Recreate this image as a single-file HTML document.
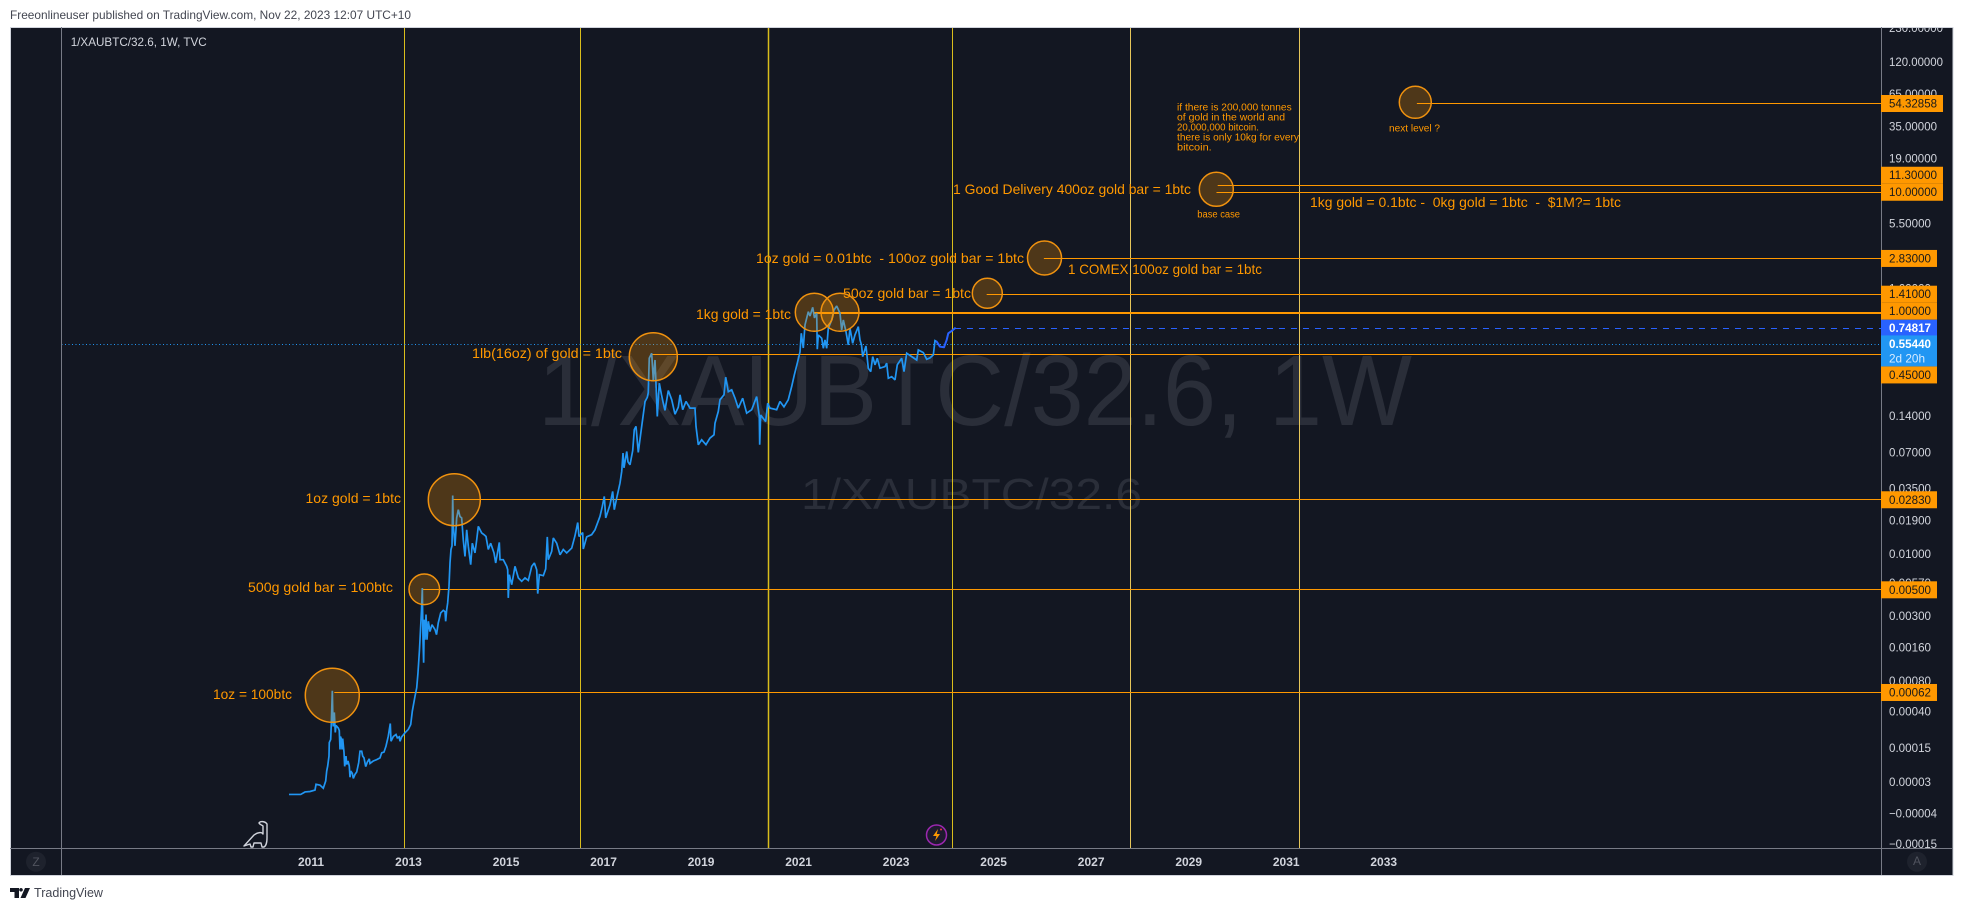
<!DOCTYPE html>
<html lang="en">
<head>
<meta charset="utf-8">
<title>1/XAUBTC/32.6 weekly chart</title>
<style>
html,body{margin:0;padding:0;background:#ffffff;width:1963px;height:911px;overflow:hidden}
svg{display:block;font-family:"Liberation Sans",Arial,sans-serif}
.note{fill:#ff9800;font-size:14px;dominant-baseline:central}
.small{fill:#ff9800;font-size:10px;dominant-baseline:central}
.circle{fill:rgba(255,152,0,.25);stroke:#f0920f;stroke-width:1.5}
</style>
</head>
<body>
<svg id="chart" xmlns="http://www.w3.org/2000/svg" width="1963" height="911" viewBox="0 0 1963 911">
  <defs>
    <clipPath id="axis-clip"><rect x="1882" y="28" width="71" height="820"/></clipPath>
  </defs>
  <text x="10" y="15" font-size="12" fill="#434651" dominant-baseline="central" textLength="401" lengthAdjust="spacingAndGlyphs">Freeonlineuser published on TradingView.com, Nov 22, 2023 12:07 UTC+10</text>

  <rect x="10.5" y="27.5" width="1942.5" height="848" fill="#131722" stroke="#d1d4dc" stroke-width="1"/>

  <text x="538" y="425" font-size="100" fill="#2a2e39" textLength="874" lengthAdjust="spacingAndGlyphs">1/XAUBTC/32.6, 1W</text>
  <text x="801" y="509" font-size="44" fill="#2a2e39" textLength="341" lengthAdjust="spacingAndGlyphs">1/XAUBTC/32.6</text>

  <g id="verticals"></g>
  <g id="reference"></g>
  <g id="levels"></g>
  <g id="series"></g>

  <g>
    <circle class="circle" cx="332.3" cy="695.3" r="27"/>
    <circle class="circle" cx="424.3" cy="589.3" r="15.3"/>
    <circle class="circle" cx="454.3" cy="499.7" r="26"/>
    <circle class="circle" cx="653.3" cy="356.7" r="24"/>
    <circle class="circle" cx="814.3" cy="312.3" r="19"/>
    <circle class="circle" cx="840" cy="312.3" r="19"/>
    <circle class="circle" cx="987.3" cy="293.3" r="15"/>
    <circle class="circle" cx="1044.5" cy="258" r="17"/>
    <circle class="circle" cx="1216.3" cy="189.3" r="17"/>
    <circle class="circle" cx="1415.3" cy="102.3" r="16"/>
  </g>

  <g>
    <text class="note" x="213" y="694" textLength="79" lengthAdjust="spacingAndGlyphs">1oz = 100btc</text>
    <text class="note" x="248" y="587" textLength="145" lengthAdjust="spacingAndGlyphs">500g gold bar = 100btc</text>
    <text class="note" x="305.5" y="498" textLength="95.5" lengthAdjust="spacingAndGlyphs">1oz gold = 1btc</text>
    <text class="note" x="472" y="353" textLength="150" lengthAdjust="spacingAndGlyphs">1lb(16oz) of gold = 1btc</text>
    <text class="note" x="696" y="314" textLength="95" lengthAdjust="spacingAndGlyphs">1kg gold = 1btc</text>
    <text class="note" x="843" y="293" textLength="128" lengthAdjust="spacingAndGlyphs">50oz gold bar = 1btc</text>
    <text class="note" x="756" y="258" textLength="268" lengthAdjust="spacingAndGlyphs" xml:space="preserve">1oz gold = 0.01btc  - 100oz gold bar = 1btc</text>
    <text class="note" x="1068" y="269" textLength="194" lengthAdjust="spacingAndGlyphs">1 COMEX 100oz gold bar = 1btc</text>
    <text class="note" x="953" y="189" textLength="238" lengthAdjust="spacingAndGlyphs">1 Good Delivery 400oz gold bar = 1btc</text>
    <text class="note" x="1310" y="202" textLength="311" lengthAdjust="spacingAndGlyphs" xml:space="preserve">1kg gold = 0.1btc -  0kg gold = 1btc  -  $1M?= 1btc</text>
    <text class="small" x="1177" y="108" textLength="114.7" lengthAdjust="spacingAndGlyphs">if there is 200,000 tonnes</text>
    <text class="small" x="1177" y="118" textLength="108" lengthAdjust="spacingAndGlyphs">of gold in the world and</text>
    <text class="small" x="1177" y="128" textLength="82" lengthAdjust="spacingAndGlyphs">20,000,000 bitcoin.</text>
    <text class="small" x="1177" y="138" textLength="122" lengthAdjust="spacingAndGlyphs">there is only 10kg for every</text>
    <text class="small" x="1177" y="148" textLength="34.7" lengthAdjust="spacingAndGlyphs">bitcoin.</text>
    <text class="small" x="1197.3" y="215" textLength="42.7" lengthAdjust="spacingAndGlyphs">base case</text>
    <text class="small" x="1389" y="129" textLength="51" lengthAdjust="spacingAndGlyphs">next level ?</text>
  </g>

  <text x="70.7" y="42" font-size="12" fill="#d1d4dc" dominant-baseline="central" textLength="136" lengthAdjust="spacingAndGlyphs">1/XAUBTC/32.6, 1W, TVC</text>

  <g fill="none" stroke="#d1d4dc" stroke-width="1.4" stroke-linejoin="round" stroke-linecap="round">
    <path d="M244 846 L254 835 C258 832 262 832 263 834 L263 826 C262 825 260 825 259 823 C260 821 265 821 267 824 L267 838 C267 842 266 846 264 847 L262 847 L261 843 L254 843 L253 847 L251 847 L250 844 Z"/>
  </g>

  <g>
    <circle cx="936.5" cy="835" r="10" fill="#1e1a2e" stroke="#9c27b0" stroke-width="1.5"/>
    <path d="M938 829 L933 836 L936.5 836 L935 841 L940 834 L936.8 834 Z" fill="#ff9800"/>
    <circle cx="941" cy="829.5" r="1" fill="#f23645"/>
  </g>

  <line x1="61.5" y1="27" x2="61.5" y2="875" stroke="#787b86"/>
  <line x1="1881.5" y1="27" x2="1881.5" y2="875" stroke="#787b86"/>
  <line x1="10" y1="848.5" x2="1953" y2="848.5" stroke="#787b86"/>

  <g id="price-ticks" clip-path="url(#axis-clip)"></g>
  <g id="price-tags"></g>
  <g id="time-ticks"></g>

  <g>
    <circle cx="36" cy="861.7" r="10" fill="#1e222d"/>
    <text x="36" y="862" text-anchor="middle" dominant-baseline="central" font-size="12" fill="#50535e">Z</text>
  </g>
  <g>
    <circle cx="1917" cy="861.7" r="10" fill="#1e222d"/>
    <text x="1917" y="861" text-anchor="middle" dominant-baseline="central" font-size="12" fill="#50535e">A</text>
  </g>

  <g>
    <path d="M10 888 H19 V898 H14.5 V892 H10 Z M21 888 a1.8 1.8 0 1 0 .01 0 Z M25 888 H30 L25.5 898 H20.5 Z" fill="#131722"/>
    <text x="34" y="893" font-size="12.5" fill="#434651" dominant-baseline="central" textLength="69" lengthAdjust="spacingAndGlyphs">TradingView</text>
  </g>
</svg>

<script>
// ---- chart data ----
const yearTicks = [2011, 2013, 2015, 2017, 2019, 2021, 2023, 2025, 2027, 2029, 2031, 2033];
const priceTicks = [230, 120, 65, 35, 19, 5.5, 1.6, 0.14, 0.07, 0.035, 0.019, 0.01, 0.0057, 0.003, 0.0016, 0.0008, 0.0004, 0.00015, 0.00003, -0.00004, -0.00015];
const verticalYears = [2012.92, 2016.53, 2020.38, 2024.16, 2027.81, 2031.27];
const levelPrices = [54.32858, 11.3, 10, 2.83, 1.41, 1, 0.45, 0.0283, 0.005, 0.00062];
const levelStartYears = [2033.68, 2029.595, 2029.57, 2026.03, 2024.857, 2021.295, 2017.987, 2013.918, 2013.291, 2011.478];
const lastPrice = 0.74817;
const lastYear = 2024.207;
const seriesClosePrice = 0.5544;
const countdownLabel = "2d 20h";

const historyYears = [
2010.549,2010.672,2010.789,2010.877,2010.98,2011.082,2011.103,2011.185,2011.252,2011.301,2011.322,2011.342,2011.369,2011.375,2011.404,2011.416,2011.437,2011.445,2011.457,2011.478,2011.498,2011.513,2011.56,2011.58,2011.595,2011.605,2011.626,2011.636,2011.65,2011.677,2011.691,2011.718,2011.732,2011.759,2011.785,2011.8,2011.814,2011.847,2011.868,2011.902,2011.937,2011.978,2012.005,2012.04,2012.06,2012.087,2012.122,2012.155,2012.196,2012.21,2012.278,2012.347,2012.415,2012.45,2012.497,2012.538,2012.585,2012.626,2012.641,2012.688,2012.743,2012.77,2012.811,2012.825,2012.86,2012.928,2012.995,2013.045,2013.078,2013.133,2013.168,2013.194,2013.225,2013.246,2013.267,2013.283,2013.297,2013.31,2013.324,2013.338,2013.359,2013.379,2013.406,2013.44,2013.481,2013.543,2013.574,2013.61,2013.66,2013.713,2013.748,2013.762,2013.783,2013.803,2013.83,2013.851,2013.871,2013.892,2013.906,2013.918,2013.953,2013.988,2014.021,2014.056,2014.09,2014.123,2014.158,2014.193,2014.226,2014.275,2014.308,2014.363,2014.398,2014.431,2014.5,2014.548,2014.589,2014.636,2014.685,2014.753,2014.788,2014.862,2014.876,2014.944,2015.014,2015.034,2015.046,2015.067,2015.116,2015.184,2015.252,2015.321,2015.389,2015.457,2015.527,2015.58,2015.629,2015.65,2015.683,2015.765,2015.813,2015.846,2015.867,2015.936,2015.969,2016.039,2016.107,2016.174,2016.244,2016.347,2016.414,2016.47,2016.496,2016.572,2016.584,2016.654,2016.756,2016.824,2016.927,2016.974,2017.015,2017.044,2017.132,2017.187,2017.22,2017.269,2017.337,2017.372,2017.399,2017.419,2017.475,2017.501,2017.542,2017.598,2017.63,2017.665,2017.712,2017.782,2017.85,2017.897,2017.917,2017.937,2017.987,2018.02,2018.055,2018.076,2018.102,2018.143,2018.188,2018.225,2018.26,2018.328,2018.398,2018.465,2018.533,2018.568,2018.623,2018.691,2018.773,2018.875,2018.896,2018.943,2019.012,2019.1,2019.182,2019.265,2019.285,2019.353,2019.388,2019.47,2019.505,2019.558,2019.628,2019.696,2019.763,2019.853,2019.935,2020.038,2020.14,2020.194,2020.202,2020.222,2020.325,2020.366,2020.413,2020.55,2020.618,2020.7,2020.788,2020.858,2020.912,2020.973,2021.029,2021.055,2021.096,2021.131,2021.199,2021.234,2021.289,2021.326,2021.371,2021.383,2021.404,2021.474,2021.507,2021.541,2021.576,2021.609,2021.679,2021.726,2021.781,2021.849,2021.883,2021.917,2021.972,2022.019,2022.054,2022.109,2022.156,2022.224,2022.259,2022.29,2022.314,2022.382,2022.429,2022.479,2022.52,2022.567,2022.614,2022.669,2022.772,2022.807,2022.84,2022.91,2022.977,2023.024,2023.114,2023.162,2023.217,2023.32,2023.422,2023.455,2023.558,2023.627,2023.695,2023.763,2023.797,2023.832
];
const historyPrices = [
0.000003,0.000003,0.000003,0.000008,0.000009,0.000012,0.000025,0.000023,0.000016,0.000033,0.000061,0.000077,0.000114,0.000177,0.000194,0.000291,0.000643,0.00042,0.000277,0.000392,0.000236,0.000284,0.000265,0.000249,0.000143,0.000211,0.000194,0.000143,0.000199,0.00013,0.000076,0.000114,0.000082,0.000095,0.000077,0.000043,0.000061,0.000054,0.00004,0.000051,0.000058,0.000089,0.000135,0.000135,0.000114,0.000107,0.000075,0.000091,0.000103,0.000086,0.000095,0.0001,0.000107,0.000128,0.000131,0.000159,0.000213,0.000298,0.000184,0.000211,0.000223,0.000203,0.000209,0.000184,0.000209,0.000234,0.000256,0.000291,0.000404,0.00057,0.000687,0.000947,0.00153,0.00229,0.00339,0.00518,0.00187,0.00117,0.00279,0.00187,0.00308,0.00187,0.0027,0.0022,0.00252,0.00229,0.00207,0.00261,0.00318,0.00335,0.00327,0.0027,0.00339,0.00387,0.00535,0.00841,0.0109,0.0117,0.0307,0.0172,0.0117,0.02,0.0234,0.0205,0.02,0.0131,0.00954,0.0159,0.0116,0.00814,0.0123,0.0102,0.0131,0.017,0.015,0.0145,0.014,0.0109,0.0123,0.0102,0.00841,0.0125,0.00896,0.00896,0.00788,0.00738,0.00427,0.0067,0.00552,0.00788,0.0063,0.0059,0.0063,0.006,0.00788,0.00841,0.00738,0.00464,0.0067,0.00658,0.00749,0.0139,0.00896,0.0105,0.0136,0.0123,0.00985,0.0109,0.0102,0.0112,0.0142,0.0183,0.014,0.0151,0.011,0.0139,0.0145,0.0159,0.0206,0.0249,0.0302,0.02,0.0257,0.0332,0.0234,0.0292,0.0389,0.0485,0.0691,0.0521,0.0712,0.0585,0.0552,0.0725,0.108,0.115,0.07,0.115,0.1845,0.2,0.219,0.422,0.464,0.279,0.408,0.254,0.139,0.262,0.21,0.179,0.156,0.228,0.191,0.145,0.166,0.21,0.158,0.185,0.163,0.163,0.115,0.081,0.089,0.081,0.092,0.098,0.122,0.153,0.191,0.21,0.294,0.223,0.231,0.197,0.163,0.197,0.148,0.158,0.203,0.139,0.081,0.143,0.126,0.179,0.163,0.158,0.185,0.167,0.191,0.246,0.307,0.384,0.476,0.679,0.513,0.796,1.025,0.944,1.114,0.91,0.995,0.501,0.658,0.618,0.51,0.598,0.51,0.747,0.875,1.059,1.142,0.995,0.723,0.875,0.7,0.544,0.747,0.561,0.658,0.771,0.598,0.544,0.435,0.533,0.349,0.327,0.435,0.372,0.422,0.349,0.36,0.384,0.288,0.297,0.279,0.372,0.422,0.327,0.464,0.435,0.408,0.494,0.47,0.414,0.425,0.45,0.59,0.579
];
const projectionYears = [2023.832, 2023.9, 2023.982, 2024.037, 2024.07, 2024.14, 2024.207];
const projectionPrices = [0.579, 0.526, 0.52, 0.598, 0.679, 0.71, 0.74817];

// ---- axis functions ----
const PX_PER_YEAR = 48.76;
const X_2011 = 311;
const Y_ZERO = 796;
const PX_PER_DECADE = 120.75;
const PLOT_LEFT = 61.5;
const PLOT_RIGHT = 1881;
function xOf(year) { return X_2011 + (year - 2011) * PX_PER_YEAR; }
function logTransform(price) {
  const m = Math.abs(price);
  if (m < 1e-15) return 0;
  const res = Math.log10(m + 0.0001) + 4;
  return price < 0 ? -res : res;
}
function yOf(price) { return Y_ZERO - PX_PER_DECADE * logTransform(price); }
function snap(px) { return Math.floor(px) + 0.5; }
function fmt(price) { return price.toFixed(5).replace('-', '\u2212'); }

const NS = 'http://www.w3.org/2000/svg';
function make(tag, parent) {
  const node = document.createElementNS(NS, tag);
  parent.appendChild(node);
  return node;
}
function style(node, props) {
  for (const k in props) node.setAttribute(k, props[k]);
  return node;
}
const byId = function (id) { return document.getElementById(id); };

// vertical lines
verticalYears.forEach(function (year, i) {
  const el = make('line', byId('verticals'));
  
  
  const px = snap(xOf(year));
  style(el, { x1: px, x2: px, y1: 28, y2: 848,
    stroke: i < 4 ? '#d9bd1c' : '#e6c65a', 'stroke-width': i === 2 ? 1.5 : 1 });
});

// current price reference lines
const dotted = make('line', byId('reference'));


const dottedY = Math.round(yOf(seriesClosePrice)) + 0.5;
style(dotted, { x1: PLOT_LEFT, x2: PLOT_RIGHT, y1: dottedY, y2: dottedY,
  stroke: '#2196f3', 'stroke-width': 1, 'stroke-dasharray': '1 2.5' });

const dashed = make('line', byId('reference'));


const dashedY = snap(yOf(lastPrice));
style(dashed, { x1: xOf(lastYear), x2: PLOT_RIGHT, y1: dashedY, y2: dashedY,
  stroke: '#2962ff', 'stroke-width': 1, 'stroke-dasharray': '6 6' });

// horizontal levels
levelPrices.forEach(function (price, i) {
  const el = make('line', byId('levels'));
  
  
  const thick = price === 1;
  const py = thick ? Math.round(yOf(price)) : snap(yOf(price));
  style(el, { x1: xOf(levelStartYears[i]), x2: PLOT_RIGHT, y1: py, y2: py,
    stroke: '#ff9800', 'stroke-width': thick ? 2 : 1 });
});

// price series
function pointsOf(years, prices) {
  return years.map(function (y, i) { return xOf(y).toFixed(2) + ',' + yOf(prices[i]).toFixed(2); }).join(' ');
}
const historyLine = make('polyline', byId('series'));


style(historyLine, { points: pointsOf(historyYears, historyPrices), fill: 'none',
  stroke: '#2196f3', 'stroke-width': 1.7, 'stroke-linejoin': 'miter', 'stroke-miterlimit': 2 });

const projectionLine = make('polyline', byId('series'));


style(projectionLine, { points: pointsOf(projectionYears, projectionPrices), fill: 'none',
  stroke: '#2962ff', 'stroke-width': 2, 'stroke-linejoin': 'round', 'stroke-linecap': 'round' });

// price-axis tick labels
priceTicks.forEach(function (price) {
  const el = make('text', byId('price-ticks'));
  
  
  const label = fmt(price);
  el.textContent = label;
  style(el, { x: 1889, y: yOf(price), fill: '#d1d4dc', 'font-size': 12, 'dominant-baseline': 'central',
    textLength: label.length * 6, lengthAdjust: 'spacingAndGlyphs' });
});

// time-axis tick labels
yearTicks.forEach(function (year) {
  const el = make('text', byId('time-ticks'));
  
  
  el.textContent = String(year);
  style(el, { x: xOf(year), y: 862, fill: '#d1d4dc', 'font-size': 12, 'font-weight': 'bold',
    'text-anchor': 'middle', 'dominant-baseline': 'central' });
});

// price tags: stack above / below the fixed current-price block
const TAG_H = 17;
const blockTop = yOf(lastPrice) - TAG_H / 2;
const blockBottom = yOf(seriesClosePrice) - TAG_H / 2 + 31;
let upperLimit = blockTop;
const tagCenters = levelPrices.map(function () { return 0; });
for (let i = levelPrices.length - 1; i >= 0; i--) {
  if (levelPrices[i] > lastPrice) {
    const c = Math.min(yOf(levelPrices[i]), upperLimit - TAG_H / 2);
    tagCenters[i] = c;
    upperLimit = c - TAG_H / 2;
  }
}
let lowerLimit = blockBottom;
for (let i = 0; i < levelPrices.length; i++) {
  if (levelPrices[i] < seriesClosePrice) {
    const c = Math.max(yOf(levelPrices[i]), lowerLimit + TAG_H / 2);
    tagCenters[i] = c;
    lowerLimit = c + TAG_H / 2;
  }
}
levelPrices.forEach(function (price, i) {
  const label = fmt(price);
  const w = label.length * 6 + 14;
  const tag = make('g', byId('price-tags'));
  
  
  const box = make('rect', tag);
  
  
  style(box, { x: 1881, y: tagCenters[i] - TAG_H / 2, width: w, height: TAG_H, fill: '#ff9800' });
  const txt = make('text', tag);
  
  
  txt.textContent = label;
  style(txt, { x: 1889, y: tagCenters[i], fill: '#1a1a1a', 'font-size': 12, 'dominant-baseline': 'central',
    textLength: label.length * 6, lengthAdjust: 'spacingAndGlyphs' });
});

const lastBox = make('rect', byId('price-tags'));


style(lastBox, { x: 1881, y: yOf(lastPrice) - TAG_H / 2, width: 56, height: TAG_H, fill: '#2962ff' });
const lastText = make('text', byId('price-tags'));


lastText.textContent = fmt(lastPrice);
style(lastText, { x: 1889, y: yOf(lastPrice), fill: '#ffffff', 'font-size': 12, 'font-weight': 'bold',
  'dominant-baseline': 'central', textLength: 42, lengthAdjust: 'spacingAndGlyphs' });

const closeBox = make('rect', byId('price-tags'));


style(closeBox, { x: 1881, y: yOf(seriesClosePrice) - TAG_H / 2, width: 56, height: 31, fill: '#2196f3' });
const closeText = make('text', byId('price-tags'));


closeText.textContent = fmt(seriesClosePrice);
style(closeText, { x: 1889, y: yOf(seriesClosePrice), fill: '#ffffff', 'font-size': 12, 'font-weight': 'bold',
  'dominant-baseline': 'central', textLength: 42, lengthAdjust: 'spacingAndGlyphs' });
const countdownText = make('text', byId('price-tags'));


countdownText.textContent = countdownLabel;
style(countdownText, { x: 1889, y: yOf(seriesClosePrice) + 14.5, fill: '#d6ebff', 'font-size': 12,
  'dominant-baseline': 'central', textLength: 36, lengthAdjust: 'spacingAndGlyphs' });
</script>
</body>
</html>
